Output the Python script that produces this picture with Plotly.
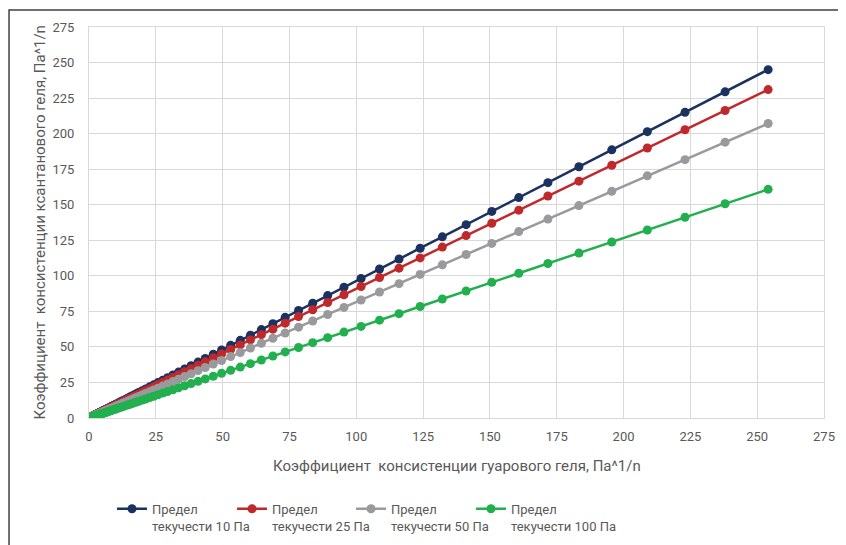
import plotly.graph_objects as go

# Guar gel consistency coefficient (x), Pa^1/n
guar_k = [0.5, 0.8, 1.1, 1.4, 1.7, 2.0, 2.2, 2.3, 2.5, 2.6, 2.8, 3.0, 3.2, 3.4, 3.7, 3.9,
          4.2, 4.4, 4.7, 5.1, 5.4, 5.8, 6.2, 6.6, 7.0, 7.5, 8.0, 8.5, 9.1, 9.7, 10.3,
          11.0, 11.8, 12.6, 13.4, 14.4, 15.3, 16.4, 17.5, 18.6, 19.9, 21.2, 22.7, 24.2,
          25.8, 27.6, 29.4, 31.4, 33.5, 35.8, 38.2, 40.8, 43.5, 46.5, 49.6, 53.0, 56.6,
          60.4, 64.5, 68.8, 73.4, 78.4, 83.7, 89.3, 95.4, 101.8, 108.7, 116.0, 123.9,
          132.2, 141.1, 150.7, 160.8, 171.7, 183.3, 195.6, 208.9, 223.0, 238.0, 254.1]

# Xanthan gel consistency coefficient (y) for each yield stress
xan_10 = [0.5, 0.8, 1.1, 1.3, 1.6, 1.9, 2.1, 2.2, 2.4, 2.5, 2.7, 2.9, 3.1, 3.3, 3.6, 3.8,
          4.0, 4.2, 4.5, 4.9, 5.2, 5.6, 6.0, 6.4, 6.7, 7.2, 7.7, 8.2, 8.8, 9.4, 9.9,
          10.6, 11.4, 12.1, 12.9, 13.9, 14.7, 15.8, 16.9, 17.9, 19.2, 20.4, 21.9, 23.3,
          24.9, 26.6, 28.3, 30.3, 32.3, 34.5, 36.8, 39.3, 41.9, 44.8, 47.8, 51.1, 54.6,
          58.2, 62.2, 66.3, 70.8, 75.6, 80.7, 86.1, 92.0, 98.1, 104.8, 111.8, 119.4,
          127.4, 136.0, 145.3, 155.0, 165.5, 176.7, 188.6, 201.4, 215.0, 229.4, 245.0]
xan_25 = [0.5, 0.7, 1.0, 1.3, 1.5, 1.8, 2.0, 2.1, 2.3, 2.4, 2.5, 2.7, 2.9, 3.1, 3.4, 3.5,
          3.8, 4.0, 4.3, 4.6, 4.9, 5.3, 5.6, 6.0, 6.4, 6.8, 7.3, 7.7, 8.3, 8.8, 9.4,
          10.0, 10.7, 11.5, 12.2, 13.1, 13.9, 14.9, 15.9, 16.9, 18.1, 19.3, 20.6, 22.0,
          23.5, 25.1, 26.7, 28.5, 30.5, 32.5, 34.7, 37.1, 39.5, 42.3, 45.1, 48.2, 51.4,
          54.9, 58.6, 62.5, 66.7, 71.3, 76.1, 81.2, 86.7, 92.5, 98.8, 105.4, 112.6,
          120.2, 128.3, 137.0, 146.2, 156.1, 166.6, 177.8, 189.9, 202.7, 216.3, 231.0]
xan_50 = [0.4, 0.7, 0.9, 1.1, 1.4, 1.6, 1.8, 1.9, 2.0, 2.1, 2.3, 2.4, 2.6, 2.8, 3.0, 3.2,
          3.4, 3.6, 3.8, 4.2, 4.4, 4.7, 5.1, 5.4, 5.7, 6.1, 6.5, 6.9, 7.4, 7.9, 8.4,
          9.0, 9.6, 10.3, 10.9, 11.7, 12.5, 13.4, 14.3, 15.2, 16.2, 17.3, 18.5, 19.7,
          21.0, 22.5, 24.0, 25.6, 27.3, 29.2, 31.1, 33.3, 35.5, 37.9, 40.4, 43.2, 46.1,
          49.2, 52.6, 56.1, 59.8, 63.9, 68.2, 72.8, 77.8, 83.0, 88.6, 94.5, 101.0,
          107.7, 115.0, 122.8, 131.1, 139.9, 149.4, 159.4, 170.3, 181.7, 194.0, 207.1]
xan_100 = [0.3, 0.5, 0.7, 0.9, 1.1, 1.3, 1.4, 1.5, 1.6, 1.6, 1.8, 1.9, 2.0, 2.2, 2.3, 2.5,
           2.7, 2.8, 3.0, 3.2, 3.4, 3.7, 3.9, 4.2, 4.4, 4.7, 5.1, 5.4, 5.8, 6.1, 6.5,
           7.0, 7.5, 8.0, 8.5, 9.1, 9.7, 10.4, 11.1, 11.8, 12.6, 13.4, 14.4, 15.3,
           16.3, 17.5, 18.6, 19.9, 21.2, 22.7, 24.2, 25.8, 27.5, 29.4, 31.4, 33.5, 35.8,
           38.2, 40.8, 43.6, 46.5, 49.6, 53.0, 56.5, 60.4, 64.4, 68.8, 73.4, 78.4,
           83.7, 89.3, 95.4, 101.8, 108.7, 116.0, 123.8, 132.2, 141.2, 150.7, 160.8]

series_names = ["Предел<br>текучести 10 Па", "Предел<br>текучести 25 Па",
                "Предел<br>текучести 50 Па", "Предел<br>текучести 100 Па"]
series_values = [xan_10, xan_25, xan_50, xan_100]
colors = ["#1b3160", "#c0292b", "#9a9a9c", "#22b04f"]

tick_vals = [0, 25, 50, 75, 100, 125, 150, 175, 200, 225, 250, 275]

x_title = "Коэффициент  консистенции гуарового геля, Па^1/n"
y_title = "Коэффициент  консистенции ксантанового геля, Па^1/n"

FONT = "Roboto, sans-serif"
TXT = "#595959"

legend_ids = ["legend", "legend2", "legend3", "legend4"]
legend_x = [0.0313, 0.1946, 0.3565, 0.5197]

fig = go.Figure()
for name, vals, c, lid in zip(series_names, series_values, colors, legend_ids):
    fig.add_trace(go.Scatter(
        x=guar_k, y=vals, name=name, mode="lines+markers",
        line=dict(color=c, width=2.5),
        marker=dict(color=c, size=9),
        legend=lid,
    ))

axis_common = dict(
    range=[0, 275], tickvals=tick_vals, showgrid=True, gridcolor="#d9d9d9", gridwidth=1,
    zeroline=False, showline=True, mirror=True, linecolor="#d9d9d9", linewidth=1,
    ticks="outside", tickcolor="rgba(0,0,0,0)", automargin=False,
    tickfont=dict(family=FONT, size=13, color=TXT),
)

legend_common = dict(orientation="h", y=-0.194, xanchor="left", yanchor="top",
                     valign="top", font=dict(family=FONT, size=13, color=TXT),
                     itemwidth=30, bgcolor="rgba(0,0,0,0)")

layout_legends = {lid: dict(x=lx, **legend_common) for lid, lx in zip(legend_ids, legend_x)}

fig.update_layout(
    width=846, height=545,
    margin=dict(l=81, r=30, t=19, b=135, autoexpand=False),
    paper_bgcolor="white", plot_bgcolor="white",
    font=dict(family=FONT, color=TXT),
    xaxis=dict(**axis_common, ticklen=6),
    yaxis=dict(**axis_common, ticklen=11),
    showlegend=True,
    **layout_legends,
)

fig.add_annotation(text=x_title, xref="paper", yref="paper", x=0.5, y=-0.1228,
                   xanchor="center", yanchor="middle", showarrow=False,
                   font=dict(family=FONT, size=15, color=TXT))
fig.add_annotation(text=y_title, xref="paper", yref="paper", x=-0.0667, y=0.5,
                   xanchor="center", yanchor="middle", showarrow=False, textangle=-90,
                   font=dict(family=FONT, size=15, color=TXT))

fig.add_shape(type="rect", xref="paper", yref="paper",
              x0=-0.1088, x1=1.2, y0=-0.6, y1=1.0435,
              line=dict(color="#404040", width=1.5), fillcolor="rgba(0,0,0,0)", layer="above")

fig.write_html("out.html")
